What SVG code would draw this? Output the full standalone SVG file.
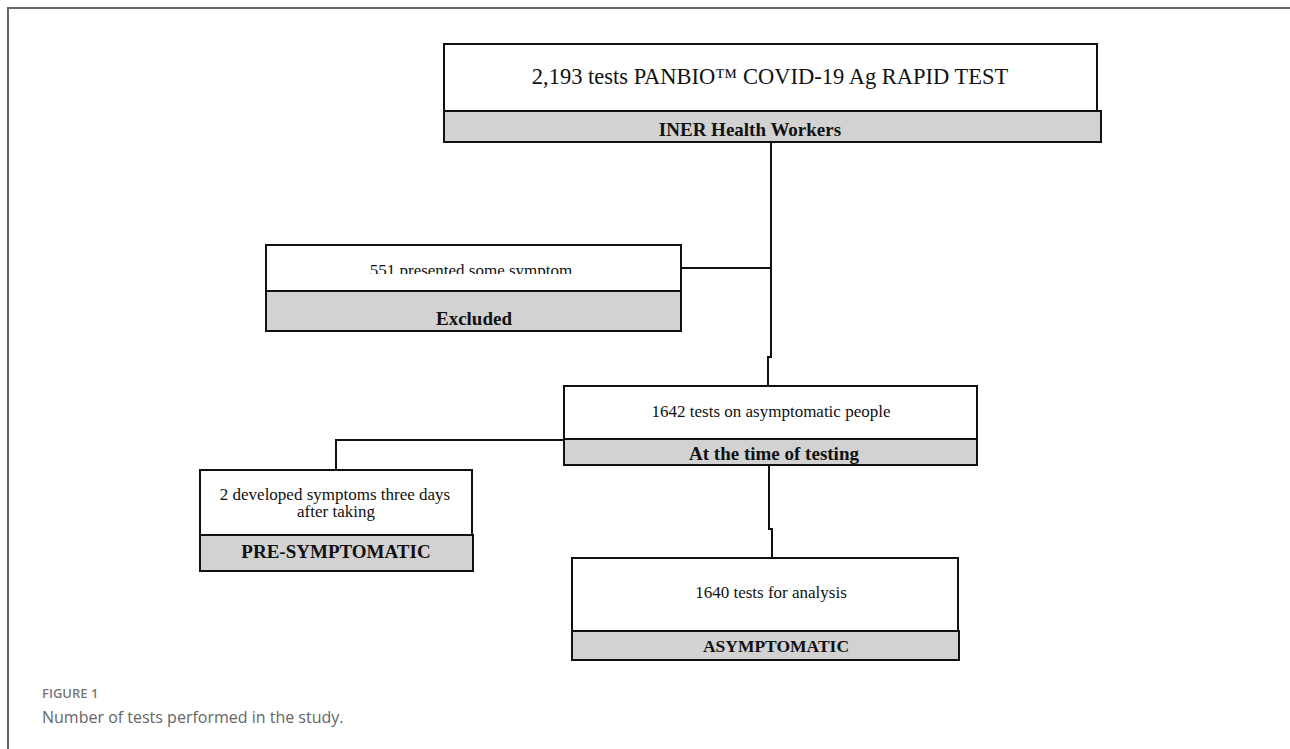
<svg xmlns="http://www.w3.org/2000/svg" width="1290" height="749" viewBox="0 0 1290 749">
<style>
.box{fill:#ffffff;stroke:#111;stroke-width:2}
.bar{fill:#d2d2d2;stroke:#111;stroke-width:2}
.t{font-family:"Liberation Serif","Times New Roman",serif;fill:#111;text-anchor:middle}
.b{font-family:"Liberation Serif","Times New Roman",serif;font-weight:bold;fill:#111;text-anchor:middle}
.conn{fill:none;stroke:#111;stroke-width:2}
.cap1{font-family:"Open Sans","Noto Sans",sans-serif;font-weight:600;fill:#777;font-size:13px}
.cap2{font-family:"Open Sans","Noto Sans",sans-serif;fill:#666;font-size:16px}
</style>
<defs>
<clipPath id="clip551"><rect x="266" y="244" width="415" height="30"/></clipPath>
</defs>
<rect x="0" y="0" width="1290" height="749" fill="#ffffff"/>
<g id="frame">
<line x1="8" y1="8" x2="1290" y2="8" stroke="#666" stroke-width="2"/>
<line x1="8" y1="7" x2="8" y2="749" stroke="#666" stroke-width="2"/>
</g>
<g id="connectors">
<polyline class="conn" points="771,142 771,357 768,357 768,385"/>
<polyline class="conn" points="681,268 771,268"/>
<polyline class="conn" points="564,440 336,440 336,470"/>
<polyline class="conn" points="769,465 769,529 772,529 772,558"/>
</g>
<g id="node-top">
<rect class="box" x="444" y="44" width="653" height="67"/>
<rect class="bar" x="444" y="111" width="657" height="31"/>
<text class="t" x="770" y="84" font-size="22.5">2,193 tests PANBIO™ COVID-19 Ag RAPID TEST</text>
<text class="b" x="750" y="135.5" font-size="19">INER Health Workers</text>
</g>
<g id="node-excluded">
<rect class="box" x="266" y="245" width="415" height="46"/>
<rect class="bar" x="266" y="291" width="415" height="40"/>
<text class="t" x="471" y="276" font-size="17" clip-path="url(#clip551)">551 presented some symptom</text>
<text class="b" x="474" y="324.5" font-size="19">Excluded</text>
</g>
<g id="node-1642">
<rect class="box" x="564" y="386" width="413" height="53"/>
<rect class="bar" x="564" y="439" width="413" height="26"/>
<text class="t" x="771" y="417" font-size="17">1642 tests on asymptomatic people</text>
<text class="b" x="774" y="459.5" font-size="19">At the time of testing</text>
</g>
<g id="node-presymptomatic">
<rect class="box" x="200" y="470" width="272" height="65"/>
<rect class="bar" x="200" y="535" width="273" height="36"/>
<text class="t" x="335" y="500" font-size="17">2 developed symptoms three days</text>
<text class="t" x="336" y="517" font-size="17">after taking</text>
<text class="b" x="336" y="557.5" font-size="19">PRE-SYMPTOMATIC</text>
</g>
<g id="node-1640">
<rect class="box" x="572" y="558" width="386" height="73"/>
<rect class="bar" x="572" y="631" width="387" height="29"/>
<text class="t" x="771" y="598" font-size="17">1640 tests for analysis</text>
<text class="b" x="776" y="652" font-size="17.5">ASYMPTOMATIC</text>
</g>
<g id="caption">
<text class="cap1" x="42" y="698">FIGURE 1</text>
<text class="cap2" x="42" y="723">Number of tests performed in the study.</text>
</g>
</svg>
